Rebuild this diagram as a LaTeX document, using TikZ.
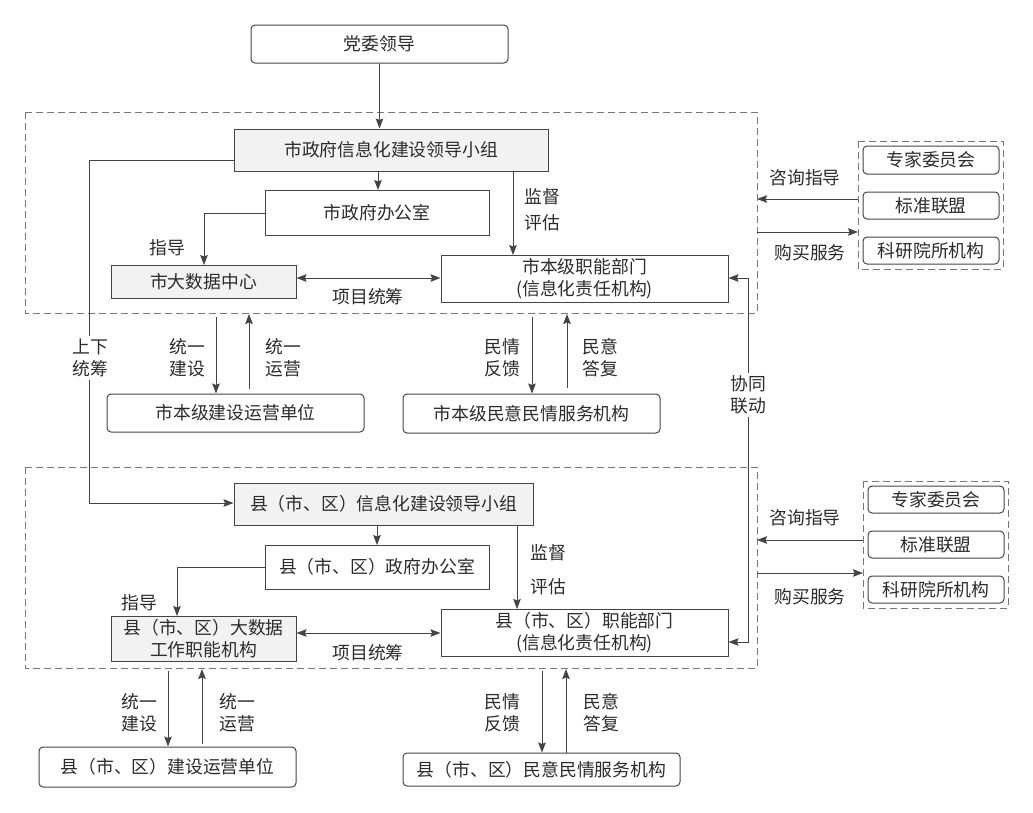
\documentclass[tikz,border=0pt]{standalone}
\usepackage{fontspec}
\setmainfont{Noto Sans CJK SC}
\usetikzlibrary{arrows.meta}
\definecolor{ln}{HTML}{444444}
\definecolor{fr}{HTML}{777777}
\definecolor{tx}{HTML}{2B2B2B}
\definecolor{gf}{HTML}{F2F2F2}
\tikzset{
  sz/.style 2 args={minimum width=#1pt, minimum height=#2pt},
  bx/.style={draw=ln, line width=1pt, inner sep=0pt, align=center, text=tx},
  rbx/.style={bx, rounded corners=4pt},
  gbx/.style={bx, fill=gf},
  framebox/.style={draw=fr, line width=1pt, dash pattern=on 7pt off 4pt},
  arr/.style={draw=ln, line width=1pt, -{Stealth[length=10pt,width=7.5pt,inset=1.5pt]}},
  darr/.style={draw=ln, line width=1pt, {Stealth[length=10pt,width=7.5pt,inset=1.5pt]}-{Stealth[length=10pt,width=7.5pt,inset=1.5pt]}},
  lnk/.style={draw=ln, line width=1pt},
  lbl/.style={align=center, text=tx, inner sep=1pt},
  wlbl/.style={lbl, fill=white, inner sep=3pt},
}
\begin{document}
\begin{tikzpicture}[x=1pt, y=-1pt, font=\fontsize{17.8}{22}\selectfont]
\useasboundingbox[fill=white] (0,0) rectangle (1033,812);

% frames
\draw[framebox] (25,112) rectangle (757,313);
\draw[framebox] (25,467) rectangle (757,668);
\draw[framebox] (858,141) rectangle (1003,269);
\draw[framebox] (863,481) rectangle (1008,608);

% ---------- city level ----------
\node[rbx, sz={257}{38}] (dang) at (379.5,44) {党委领导};
\node[gbx, sz={314}{42}] (sgroup) at (391,150) {市政府信息化建设领导小组};
\node[bx, sz={224}{45}] (soffice) at (377,212.5) {市政府办公室};
\node[gbx, sz={185}{33}] (sbig) at (203.5,281.5) {市大数据中心};
\node[bx, sz={287}{47}] (sfunc) at (584.5,278.5) {市本级职能部门\\(信息化责任机构)};
\node[rbx, sz={257}{38}] (sbuild) at (235.5,413) {市本级建设运营单位};
\node[rbx, sz={257}{39}] (spub) at (531.5,413.5) {市本级民意民情服务机构};

\node[rbx, sz={136}{28}] (exp1) at (931,160) {专家委员会};
\node[rbx, sz={136}{27}] (std1) at (931,205.5) {标准联盟};
\node[rbx, sz={136}{27}] (res1) at (931,250.5) {科研院所机构};

% ---------- county level ----------
\node[gbx, sz={299}{42}] (cgroup) at (383.5,504) {县（市、区）信息化建设领导小组};
\node[bx, sz={224}{44}] (coffice) at (377,567) {县（市、区）政府办公室};
\node[gbx, sz={185}{45}] (cbig) at (203.5,638.5) {县（市、区）大数据\\工作职能机构};
\node[bx, sz={287}{47}] (cfunc) at (584.5,632.5) {县（市、区）职能部门\\(信息化责任机构)};
\node[rbx, sz={257}{40}] (cbuild) at (167.5,767) {县（市、区）建设运营单位};
\node[rbx, sz={277}{33}] (cpub) at (541.5,769.5) {县（市、区）民意民情服务机构};

\node[rbx, sz={136}{27}] (exp2) at (936,499.5) {专家委员会};
\node[rbx, sz={136}{27}] (std2) at (936,544.5) {标准联盟};
\node[rbx, sz={136}{27}] (res2) at (936,589.5) {科研院所机构};

% free-end coordinates
\coordinate (uR1) at (757,199);  \coordinate (pL1) at (858,199);
\coordinate (uR2) at (757,232);  \coordinate (pL2) at (858,232);
\coordinate (lR1) at (757,540);  \coordinate (pL3) at (863,540);
\coordinate (lR2) at (757,573);  \coordinate (pL4) at (863,573);
\coordinate (ub1) at (216,317);  \coordinate (ub2) at (249,314);
\coordinate (ub3) at (532,317);  \coordinate (ub4) at (567,314);
\coordinate (lb1) at (168,671);  \coordinate (lb2) at (202,669);
\coordinate (lb3) at (542,671);  \coordinate (lb4) at (566,669);

% ---------- city connectors ----------
\draw[arr] (dang.south) -- (sgroup.north -| dang.south);
\draw[arr] (378,171) -- (378,190);
\draw[arr] (soffice.west |- 0,213) -| (204,265);
\draw[arr] (513,171) -- (513,255);
\draw[darr] (sbig.east |- 0,278) -- (sfunc.west |- 0,278);
\draw[arr] (ub1) -- (sbuild.north -| ub1);
\draw[arr] (sbuild.north -| ub2) ++(0,-5) -- (ub2);
\draw[arr] (ub3) -- (spub.north -| ub3);
\draw[arr] (spub.north -| ub4) ++(0,-6) -- (ub4);
\draw[arr] (pL1) -- (uR1);
\draw[arr] (uR2) -- (pL2);

% up-down coordination
\draw[arr] (sgroup.west |- 0,160) -- (89,160) -- (89,503) -- (cgroup.west |- 0,503);
% cooperation link
\draw[darr] (sfunc.east |- 0,278) -- (748,278) -- (748,642) -- (cfunc.east |- 0,642);

% ---------- county connectors ----------
\draw[arr] (377,525) -- (377,545);
\draw[arr] (coffice.west |- 0,567) -| (177,616);
\draw[arr] (517,525) -- (517,609);
\draw[darr] (cbig.east |- 0,633) -- (cfunc.west |- 0,633);
\draw[arr] (lb1) -- (cbuild.north -| lb1);
\draw[arr] (cbuild.north -| lb2) ++(0,-3) -- (lb2);
\draw[arr] (lb3) -- (cpub.north -| lb3);
\draw[arr] (cpub.north -| lb4) -- (lb4);
\draw[arr] (pL3) -- (lR1);
\draw[arr] (lR2) -- (pL4);

% ---------- labels ----------
\node[lbl] (l1) at (167,248) {指导};
\node[lbl] (l2) at (542,197) {监督};
\node[lbl] (l3) at (542,223) {评估};
\node[lbl] (l4) at (368,297) {项目统筹};
\node[lbl] (l5) at (805,178) {咨询指导};
\node[lbl] (l6) at (810,253) {购买服务};
\node[wlbl] (l7) at (90,358) {上下\\统筹};
\node[lbl] (l8) at (187,358) {统一\\建设};
\node[lbl] (l9) at (283,358) {统一\\运营};
\node[lbl] (l10) at (502,358) {民情\\反馈};
\node[lbl] (l11) at (600,358) {民意\\答复};
\node[wlbl] (l12) at (748,395) {协同\\联动};

\node[lbl] (m1) at (139,603) {指导};
\node[lbl] (m2) at (548,553) {监督};
\node[lbl] (m3) at (548,587) {评估};
\node[lbl] (m4) at (368,653) {项目统筹};
\node[lbl] (m5) at (805,518) {咨询指导};
\node[lbl] (m6) at (810,597) {购买服务};
\node[lbl] (m8) at (139,713) {统一\\建设};
\node[lbl] (m9) at (237,713) {统一\\运营};
\node[lbl] (m10) at (502,713) {民情\\反馈};
\node[lbl] (m11) at (601,713) {民意\\答复};
\end{tikzpicture}
\end{document}
